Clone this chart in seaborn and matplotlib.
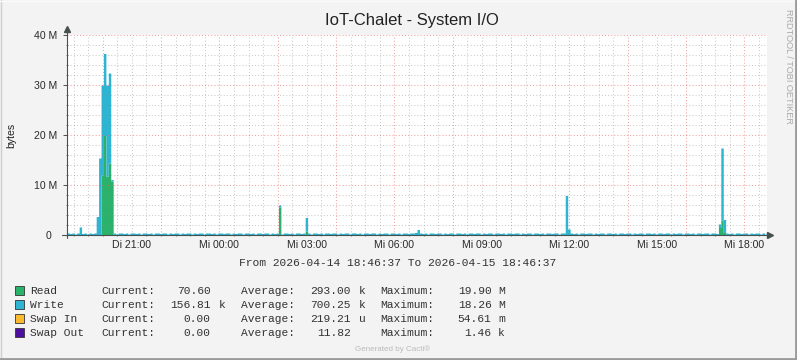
import numpy as np
import matplotlib
matplotlib.use("Agg")
import matplotlib.pyplot as plt
from matplotlib.patches import Rectangle
from matplotlib.lines import Line2D
import seaborn as sns

# ---------------- data (MB, 5-minute steps, 288 points) ----------------
title = "IoT-Chalet - System I/O"
y_label = "bytes"
step_minutes = 5
start_hour = 18 + 46 / 60 + 37 / 3600  # 18:46:37

write_mb = [
    0.4, 0.3, 0.4, 0.2, 0.4, 1.6, 0.3, 0.4, 0.2, 0.4, 0.3, 0.4, 3.7, 15.4, 18.0, 16.4, 18.26, 18.0, 0.3, 0.4, 0.2, 0.4, 0.4, 0.3,
    0.4, 0.2, 0.4, 0.4, 0.3, 0.4, 0.2, 0.4, 0.4, 0.3, 0.4, 0.2, 0.4, 0.4, 0.3, 0.4, 0.4, 0.2, 0.4, 0.3, 0.4, 0.4, 0.2, 0.4,
    0.3, 0.4, 0.4, 0.2, 0.4, 0.3, 0.4, 0.4, 0.2, 0.4, 0.4, 0.3, 0.4, 0.2, 0.4, 0.4, 0.3, 0.4, 0.4, 0.2, 0.4, 0.3, 0.4, 0.4,
    0.2, 0.4, 0.4, 0.3, 0.4, 0.2, 0.4, 0.4, 0.3, 0.4, 0.4, 0.2, 0.4, 0.3, 0.4, 0.4, 0.2, 0.4, 0.4, 0.3, 0.4, 0.2, 0.4, 0.4,
    0.3, 0.4, 2.7, 0.4, 0.2, 0.4, 0.4, 0.3, 0.4, 0.2, 0.4, 0.4, 0.3, 0.4, 0.4, 0.2, 0.4, 0.3, 0.4, 0.4, 0.2, 0.4, 0.4, 0.3,
    0.4, 0.2, 0.4, 0.4, 0.3, 0.4, 0.4, 0.2, 0.4, 0.3, 0.4, 0.4, 0.2, 0.4, 0.4, 0.3, 0.4, 0.2, 0.4, 0.4, 0.3, 0.4, 0.4, 0.5,
    1.1, 0.4, 0.3, 0.4, 0.2, 0.4, 0.4, 0.3, 0.4, 0.4, 0.2, 0.4, 0.3, 0.4, 0.4, 0.2, 0.4, 0.4, 0.3, 0.4, 0.2, 0.4, 0.4, 0.3,
    0.4, 0.4, 0.2, 0.4, 0.3, 0.4, 0.4, 0.2, 0.4, 0.4, 0.3, 0.4, 0.2, 0.4, 0.4, 0.3, 0.4, 0.4, 0.2, 0.4, 0.3, 0.4, 0.4, 0.2,
    0.4, 0.4, 0.3, 0.4, 0.2, 0.4, 0.4, 0.3, 0.4, 0.4, 0.2, 0.4, 0.4, 7.9, 1.2, 0.4, 0.3, 0.4, 0.2, 0.4, 0.4, 0.3, 0.4, 0.4,
    0.2, 0.4, 0.3, 0.4, 0.4, 0.2, 0.4, 0.4, 0.3, 0.4, 0.2, 0.4, 0.4, 0.3, 0.4, 0.4, 0.2, 0.4, 0.3, 0.4, 0.4, 0.2, 0.4, 0.4,
    0.3, 0.4, 0.2, 0.4, 0.4, 0.3, 0.4, 0.4, 0.2, 0.4, 0.3, 0.4, 0.4, 0.2, 0.4, 0.4, 0.3, 0.4, 0.2, 0.4, 0.4, 0.3, 0.4, 0.4,
    0.2, 0.4, 0.4, 0.3, 0.7, 14.4, 2.6, 0.4, 0.3, 0.4, 0.2, 0.4, 0.4, 0.3, 0.4, 0.4, 0.2, 0.4, 0.3, 0.4, 0.4, 0.2, 0.4, 0.16,
]
# Read is ~0 except for these samples (index -> MB)
read_spikes = {14: 12.0, 15: 19.9, 16: 11.74, 17: 14.4, 18: 10.8,
               87: 5.6, 98: 0.8, 268: 1.5, 269: 3.0, 270: 0.5}
# Swap in / out are ~0 bytes over the whole period (not visible)
swap_in_spikes = {}
swap_out_spikes = {}

series_names = ["Read", "Write", "Swap In", "Swap Out"]
series_colors = ["#2AB26B", "#2DB5D3", "#FDB92F", "#4D0F9E"]
current_vals = ["70.60", "156.81 k", "0.00", "0.00"]
average_vals = ["293.00 k", "700.25 k", "219.21 u", "11.82"]
maximum_vals = ["19.90 M", "18.26 M", "54.61 m", "1.46 k"]

y_ticks = [0, 10, 20, 30, 40]
y_ticklabels = ["0  ", "10 M", "20 M", "30 M", "40 M"]
x_tick_hours = [21, 24, 27, 30, 33, 36, 39, 42]
x_ticklabels = ["Di 21:00", "Mi 00:00", "Mi 03:00", "Mi 06:00", "Mi 09:00",
                "Mi 12:00", "Mi 15:00", "Mi 18:00"]
range_text = "From 2026-04-14 18:46:37 To 2026-04-15 18:46:37"

# ---------------- build arrays ----------------
n = len(write_mb)
write = np.array(write_mb, dtype=float)
read = np.zeros(n)
for k, v in read_spikes.items():
    read[k] = v
swap_in = np.zeros(n)
for k, v in swap_in_spikes.items():
    swap_in[k] = v
swap_out = np.zeros(n)
for k, v in swap_out_spikes.items():
    swap_out[k] = v

x = np.arange(n + 1) * step_minutes / 60.0  # hours since start
def ext(a):
    return np.append(a, a[-1])

# ---------------- figure ----------------
sns.set_theme(style="white")
plt.rcParams["font.family"] = ["Liberation Sans", "DejaVu Sans"]

W, H = 797, 360
fig = plt.figure(figsize=(W / 100, H / 100), dpi=100)
fig.patch.set_facecolor("#F3F3F3")
ax = fig.add_axes([67 / W, 1 - 235 / H, 700 / W, 200 / H])
ax.set_facecolor("white")
ax.set_xlim(0, 24)
ax.set_ylim(0, 40)

# stacked areas
base = np.zeros(n)
for vals, col, z in [(read, series_colors[0], 2), (write, series_colors[1], 2.1),
                     (swap_in, series_colors[2], 2.2), (swap_out, series_colors[3], 2.3)]:
    top = base + vals
    ax.fill_between(x, ext(base), ext(top), step="post", color=col, lw=0, zorder=z)
    base = top

# grid (drawn over data like rrdtool)
grid_major = (0.90, 0.40, 0.40, 0.6)
grid_minor = (0.55, 0.55, 0.55, 0.45)
dots = (0, (1, 2))
for yv in np.arange(2, 41, 2):
    c = grid_major if yv % 10 == 0 else grid_minor
    ax.axhline(yv, color=c, lw=0.75, ls=dots, zorder=3)
first_half = np.ceil(start_hour * 2) / 2
for hv in np.arange(first_half, start_hour + 24, 0.5):
    c = grid_major if (abs(hv - round(hv)) < 1e-6 and int(round(hv)) % 2 == 0) else grid_minor
    ax.axvline(hv - start_hour, color=c, lw=0.75, ls=dots, zorder=3)

# ticks
ax.set_yticks(y_ticks)
ax.set_yticklabels(y_ticklabels)
ax.set_yticks(np.arange(0, 41, 2), minor=True)
ax.set_xticks([h - start_hour for h in x_tick_hours])
ax.set_xticklabels(x_ticklabels)
ax.set_xticks(np.arange(first_half, start_hour + 24, 0.5) - start_hour, minor=True)
axis_col = "#45504F"
ax.tick_params(axis="y", which="major", length=3, width=0.7, color=axis_col,
               pad=4, labelsize=7.6, labelcolor="#2A2A2A", direction="out", left=True)
ax.tick_params(axis="y", which="minor", length=2, width=0.5, color=axis_col, direction="inout", left=True)
ax.tick_params(axis="x", which="major", length=0, pad=3.5, labelsize=7.6, labelcolor="#2A2A2A", bottom=True)
ax.tick_params(axis="x", which="minor", length=2, width=0.5, color=axis_col, direction="inout", bottom=True)

for s in ax.spines.values():
    s.set_visible(False)

# axis lines with arrows
ax.plot([0, 0], [-0.015, 1.03], transform=ax.transAxes, color=axis_col, lw=0.8, clip_on=False, zorder=5)
ax.plot([-0.007, 1.005], [0, 0], transform=ax.transAxes, color=axis_col, lw=0.8, clip_on=False, zorder=5)
ax.plot([0], [1.03], transform=ax.transAxes, marker="^", ms=4, color=axis_col, clip_on=False, zorder=5)
ax.plot([1.005], [0], transform=ax.transAxes, marker=">", ms=4, color=axis_col, clip_on=False, zorder=5)

# texts
fig.text(412 / W, 1 - 21 / H, title, ha="center", va="center", fontsize=12, color="#222222")
fig.text(11 / W, 1 - 135 / H, y_label, ha="center", va="center", rotation=90, fontsize=7.6, color="#222222")
fig.text(789 / W, 1 - 66 / H, "RRDTOOL / TOBI OETIKER", ha="center", va="center", rotation=270,
         fontsize=6.6, color="#AAAAAA")
mono = ["Liberation Mono", "DejaVu Sans Mono"]
fig.text(398 / W, 1 - 263 / H, range_text, ha="center", va="center", fontsize=8.1,
         family=mono, color="#333333")
fig.text(393 / W, 1 - 349.5 / H, "Generated by Cacti®", ha="center", va="center", fontsize=5.8,
         color="#BBBBBB")

def split_val(s):
    parts = s.split(" ")
    return parts[0], (parts[1] if len(parts) > 1 else "")

row_y = [290.7, 304.7, 318.7, 332.7]
for i, name in enumerate(series_names):
    yc = row_y[i]
    fig.patches.append(Rectangle((15 / W, 1 - (yc + 4.5) / H), 9 / W, 9 / H,
                                 transform=fig.transFigure, facecolor=series_colors[i],
                                 edgecolor="#333333", lw=0.6))
    kw = dict(va="center", fontsize=8.1, family=mono, color="#333333")
    fig.text(30 / W, 1 - yc / H, name, ha="left", **kw)
    fig.text(101 / W, 1 - yc / H, "Current:", ha="left", **kw)
    fig.text(240.7 / W, 1 - yc / H, "Average:", ha="left", **kw)
    fig.text(380.7 / W, 1 - yc / H, "Maximum:", ha="left", **kw)
    for val, xr, xu in [(current_vals[i], 210.5, 218.5), (average_vals[i], 350.5, 358.5),
                        (maximum_vals[i], 491.5, 498)]:
        num, unit = split_val(val)
        fig.text(xr / W, 1 - yc / H, num, ha="right", **kw)
        if unit:
            fig.text(xu / W, 1 - yc / H, unit, ha="left", **kw)

# frame
fig.add_artist(Line2D([0.5 / W, 0.5 / W], [0, 1], transform=fig.transFigure, color="#CFCFCF", lw=1))
fig.add_artist(Line2D([0, 1], [1 - 0.5 / H, 1 - 0.5 / H], transform=fig.transFigure, color="#FAFAFA", lw=1))
fig.add_artist(Line2D([1 - 1 / W, 1 - 1 / W], [0, 1], transform=fig.transFigure, color="#9A9A9A", lw=2))
fig.add_artist(Line2D([0, 1], [1 / H, 1 / H], transform=fig.transFigure, color="#9A9A9A", lw=2))

fig.savefig("out.png", dpi=100, facecolor=fig.get_facecolor())
